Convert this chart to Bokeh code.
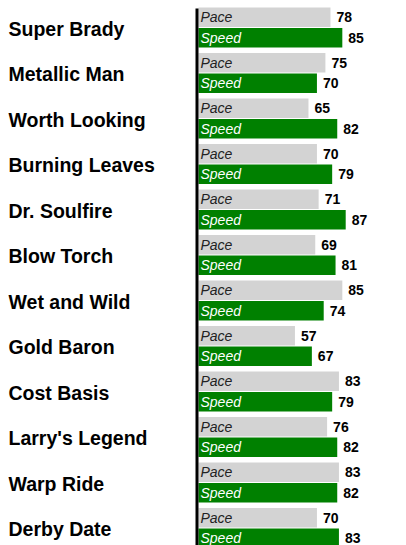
from bokeh.plotting import figure
from bokeh.models import ColumnDataSource, Range1d
from bokeh.core.properties import value
from bokeh.embed import file_html
from bokeh.resources import INLINE

names = ["Super Brady", "Metallic Man", "Worth Looking", "Burning Leaves",
         "Dr. Soulfire", "Blow Torch", "Wet and Wild", "Gold Baron",
         "Cost Basis", "Larry's Legend", "Warp Ride", "Derby Date"]
pace = [78, 75, 65, 70, 71, 69, 85, 57, 83, 76, 83, 70]
speed = [85, 70, 82, 79, 87, 81, 74, 67, 79, 82, 82, 83]

W, H = 406, 545
px_per_unit = 1.692
left_px = 198
row_px = 45.5
top_off = 27

x_start = -left_px / px_per_unit
x_end = (W - left_px) / px_per_unit
y_top = -top_off / row_px
y_bot = y_top + H / row_px

rows = list(range(len(names)))
off = 0.225
bh = 0.43

src_p = ColumnDataSource(dict(y=[r - off for r in rows], v=pace,
                              lab=["Pace"] * len(rows),
                              vl=[str(v) for v in pace]))
src_s = ColumnDataSource(dict(y=[r + off for r in rows], v=speed,
                              lab=["Speed"] * len(rows),
                              vl=[str(v) for v in speed]))
src_n = ColumnDataSource(dict(y=rows, n=names, x=[x_start] * len(rows)))

p = figure(width=W, height=H, output_backend="svg", toolbar_location=None,
           x_range=Range1d(x_start, x_end), y_range=Range1d(y_bot, y_top),
           x_axis_type=None, y_axis_type=None, min_border=0,
           outline_line_color=None)
p.grid.visible = False

p.hbar(y="y", right="v", left=0, height=bh, source=src_p,
       fill_color="#d3d3d3", line_color=None)
p.hbar(y="y", right="v", left=0, height=bh, source=src_s,
       fill_color="#008000", line_color=None)

# vertical baseline (axis line)
lx = -1.5 / px_per_unit
p.segment(x0=[lx], y0=[y_top + 8 / row_px], x1=[lx], y1=[y_bot],
          line_color="black", line_width=3)

p.text(x=0, y="y", text="lab", source=src_p, x_offset=2,
       text_font=value("Liberation Sans"), text_font_style="italic",
       text_font_size="14px", text_color="#222222", text_baseline="middle")
p.text(x=0, y="y", text="lab", source=src_s, x_offset=2,
       text_font=value("Liberation Sans"), text_font_style="italic",
       text_font_size="14px", text_color="white", text_baseline="middle")

p.text(x="v", y="y", text="vl", source=src_p, x_offset=6,
       text_font=value("Liberation Sans"), text_font_style="bold",
       text_font_size="14px", text_color="black", text_baseline="middle")
p.text(x="v", y="y", text="vl", source=src_s, x_offset=6,
       text_font=value("Liberation Sans"), text_font_style="bold",
       text_font_size="14px", text_color="black", text_baseline="middle")

p.text(x="x", y="y", text="n", source=src_n, x_offset=8, y_offset=1,
       text_font=value("Liberation Sans"), text_font_style="bold",
       text_font_size="19.5px", text_color="black", text_baseline="middle")

open("out.html", "w").write(file_html(p, INLINE))
